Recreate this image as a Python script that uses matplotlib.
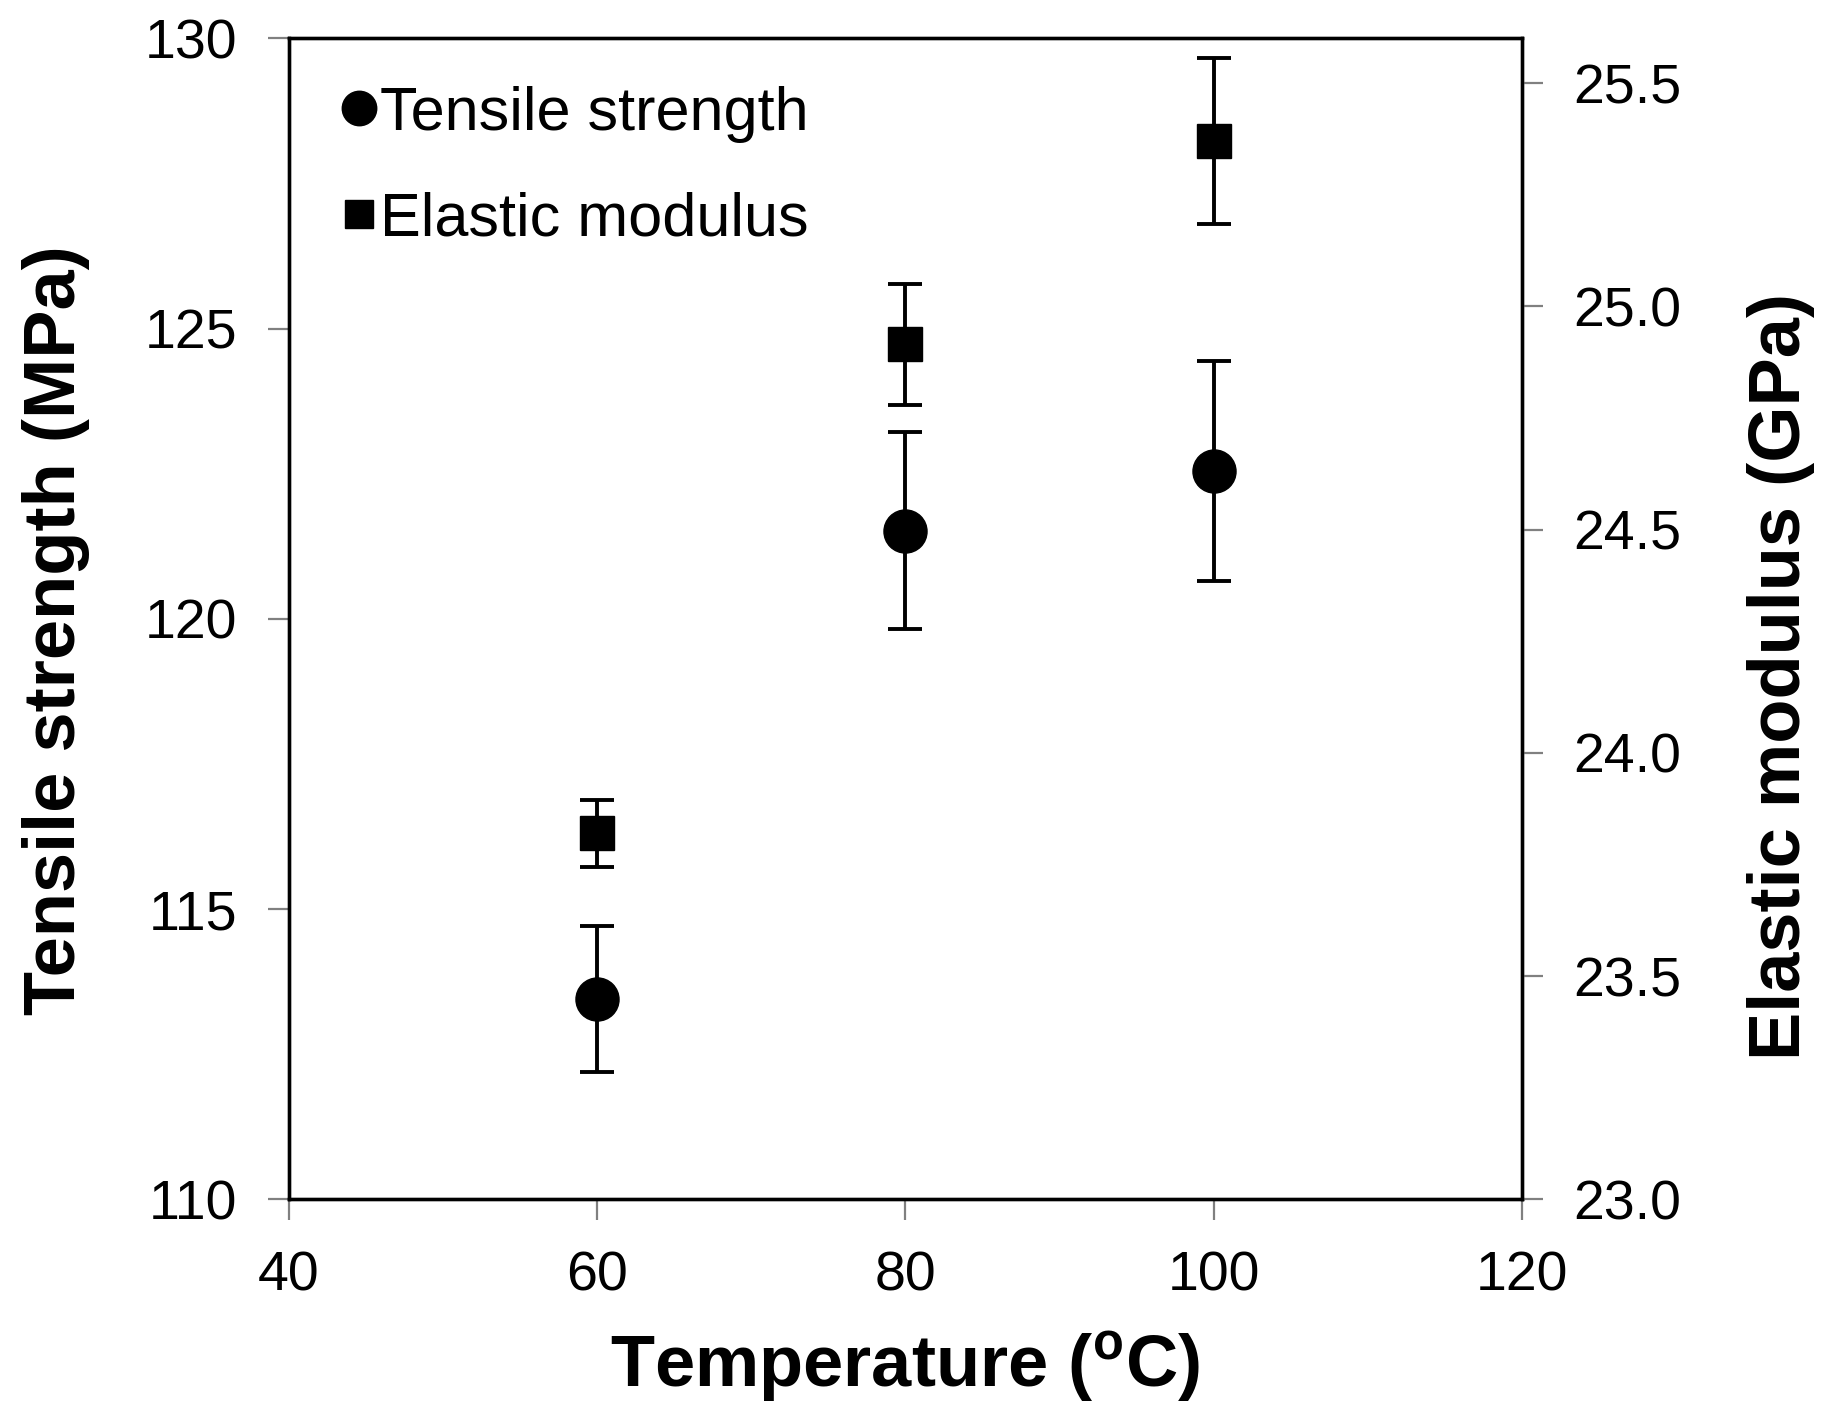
import matplotlib
matplotlib.use("Agg")
import matplotlib.pyplot as plt

plt.rcParams['font.family'] = ['Liberation Sans', 'DejaVu Sans']
plt.rcParams['mathtext.fontset'] = 'custom'
plt.rcParams['mathtext.rm'] = 'Liberation Sans'
plt.rcParams['mathtext.bf'] = 'Liberation Sans:bold'

# Data
temperature = [60, 80, 100]
tensile_strength = [113.45, 121.52, 122.55]
tensile_err = [1.25, 1.70, 1.90]
elastic_modulus = [23.82, 24.915, 25.37]
elastic_err = [0.075, 0.135, 0.185]

x_ticks = [40, 60, 80, 100, 120]
left_ticks = [110, 115, 120, 125, 130]
right_ticks = [23.0, 23.5, 24.0, 24.5, 25.0, 25.5]

fig = plt.figure(figsize=(18.29, 14.21), dpi=100)
ax = fig.add_axes([0.158, 0.156, 0.674, 0.817])
ax2 = ax.twinx()

eb1 = ax.errorbar(temperature, tensile_strength, yerr=tensile_err, fmt='o', color='black',
                  markersize=31, elinewidth=2.8, capsize=12, capthick=2.8,
                  label='Tensile strength', zorder=3)
eb2 = ax2.errorbar(temperature, elastic_modulus, yerr=elastic_err, fmt='s', color='black',
                   markersize=25, elinewidth=2.8, capsize=12, capthick=2.8,
                   label='Elastic modulus', zorder=3)

ax.set_xlim(40, 120)
ax.set_ylim(110, 130)
ax2.set_ylim(23.0, 25.6)
ax.set_xticks(x_ticks)
ax.set_yticks(left_ticks)
ax2.set_yticks(right_ticks)
ax2.set_yticklabels([f"{v:.1f}" for v in right_ticks])

for a in (ax, ax2):
    for s in a.spines.values():
        s.set_linewidth(2.4)
        s.set_color('black')
    a.tick_params(direction='out', length=15, width=1.6, color='#808080',
                  labelsize=40, pad=22)

ax.set_xlabel(r'Temperature ($\mathbf{^{o}}$C)', fontsize=52, fontweight='bold', va='center')
ax.xaxis.set_label_coords(0.5, -0.145)
ax.set_ylabel('Tensile strength (MPa)', fontsize=52, fontweight='bold', va='center')
ax.yaxis.set_label_coords(-0.189, 0.49)
ax2.set_ylabel('Elastic modulus (GPa)', fontsize=52, fontweight='bold', va='center', rotation=90)
ax2.yaxis.set_label_coords(1.21, 0.45)

leg = ax2.legend([eb1[0], eb2[0]], ['Tensile strength', 'Elastic modulus'],
                 loc='upper left', bbox_to_anchor=(-0.008, 1.012), frameon=False,
                 fontsize=44, markerscale=0.8, handlelength=0.6, handletextpad=0.05,
                 labelspacing=0.8, borderaxespad=0.6, numpoints=1)

fig.savefig('out.png', dpi=100)
